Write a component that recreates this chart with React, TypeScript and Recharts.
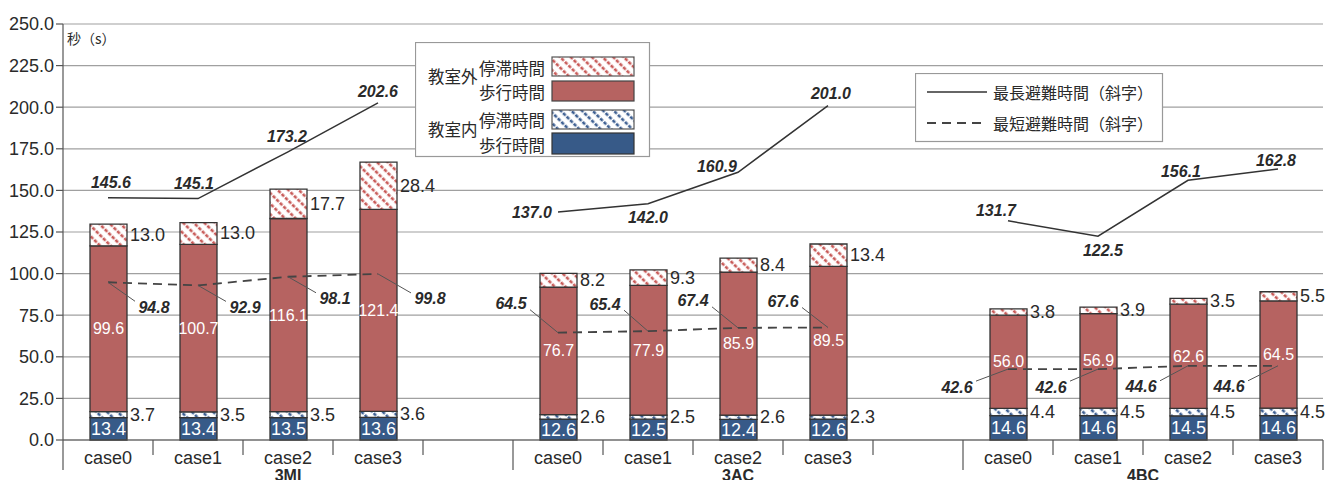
import React from 'react';
import { ComposedChart, Bar, Line, XAxis, YAxis, CartesianGrid, LabelList } from 'recharts';

// ---------- data ----------
const groups = ['3MI', '3AC', '4BC'];
const cases = ['case0', 'case1', 'case2', 'case3'];
const yTicks = [0, 25, 50, 75, 100, 125, 150, 175, 200, 225, 250];

const innerWalk = [13.4, 13.4, 13.5, 13.6, 12.6, 12.5, 12.4, 12.6, 14.6, 14.6, 14.5, 14.6];
const innerStay = [3.7, 3.5, 3.5, 3.6, 2.6, 2.5, 2.6, 2.3, 4.4, 4.5, 4.5, 4.5];
const outerWalk = [99.6, 100.7, 116.1, 121.4, 76.7, 77.9, 85.9, 89.5, 56.0, 56.9, 62.6, 64.5];
const outerStay = [13.0, 13.0, 17.7, 28.4, 8.2, 9.3, 8.4, 13.4, 3.8, 3.9, 3.5, 5.5];
const maxTime = [145.6, 145.1, 173.2, 202.6, 137.0, 142.0, 160.9, 201.0, 131.7, 122.5, 156.1, 162.8];
const minTime = [94.8, 92.9, 98.1, 99.8, 64.5, 65.4, 67.4, 67.6, 42.6, 42.6, 44.6, 44.6];

const yUnit = '秒（s）';
const legendOuter = '教室外';
const legendInner = '教室内';
const legendStay = '停滞時間';
const legendWalk = '歩行時間';
const legendMax = '最長避難時間（斜字）';
const legendMin = '最短避難時間（斜字）';

// ---------- layout / style ----------
const CHART_W = 1335;
const CHART_H = 472;
const MARGIN = { top: 16, right: 20, bottom: 0, left: 0 };
const Y_AXIS_W = 55;
const X_AXIS_H = 40;
const PLOT_BOTTOM = CHART_H - MARGIN.bottom - X_AXIS_H;
const PLOT_W = CHART_W - MARGIN.left - MARGIN.right - Y_AXIS_W;

const FONT = "'Liberation Sans', 'Noto Sans CJK JP', Arial, sans-serif";
const JP = "'Noto Sans CJK JP', 'Liberation Sans', sans-serif";
const RED = '#b66361';
const BLUE = '#375a88';
const HATCH_RED = '#c85a58';
const HATCH_BLUE = '#3d5f92';
const OUTLINE = '#333';
const TEXT = '#2a2a2a';

// label placement (dx, dy of label centre from its point)
const maxLabelShift: [number, number][] = [
  [3, -15], [-4, -15], [-1, -15], [0, -11],
  [-26, 0], [0, 14], [-21, -6], [3, -12],
  [-12, -10], [5, 14], [-7, -9], [-2, -9],
];
const minLabelShift: [number, number][] = [
  [46, 25], [47, 22], [47, 22], [52, 25],
  [-47, -29], [-43, -27], [-45, -27], [-45, -26],
  [-51, 18], [-47, 18], [-47, 21], [-49, 21],
];

type Row = {
  slot: string;
  k: number;
  caseName: string;
  group: string;
  groupStart: boolean;
  groupEnd: boolean;
  groupSlots: number;
  innerWalk: number | null;
  innerStay: number | null;
  outerWalk: number | null;
  outerStay: number | null;
  maxTime: number | null;
  minTime: number | null;
};

const rows: Row[] = [];
groups.forEach((g, gi) => {
  const hasGap = gi < groups.length - 1;
  const n = cases.length + (hasGap ? 1 : 0);
  cases.forEach((c, ci) => {
    const k = gi * cases.length + ci;
    rows.push({
      slot: `${g}:${c}`,
      k,
      caseName: c,
      group: g,
      groupStart: ci === 0,
      groupEnd: !hasGap && ci === cases.length - 1,
      groupSlots: n,
      innerWalk: innerWalk[k],
      innerStay: innerStay[k],
      outerWalk: outerWalk[k],
      outerStay: outerStay[k],
      maxTime: maxTime[k],
      minTime: minTime[k],
    });
  });
  if (hasGap) {
    rows.push({
      slot: `${g}:gap`,
      k: -1,
      caseName: '',
      group: g,
      groupStart: false,
      groupEnd: true,
      groupSlots: n,
      innerWalk: null,
      innerStay: null,
      outerWalk: null,
      outerStay: null,
      maxTime: null,
      minTime: null,
    });
  }
});

const BAND_HALF = PLOT_W / rows.length / 2;

const CaseTick = (props: any) => {
  const { x, payload } = props;
  const i = payload && payload.index != null ? payload.index : props.index;
  const row = rows[i];
  if (!row) return <g />;
  const y0 = PLOT_BOTTOM;
  return (
    <g>
      {i === 0 && <line x1={x - BAND_HALF} x2={x - BAND_HALF} y1={y0} y2={y0 + 30} stroke="#555" strokeWidth={1.2} />}
      <line
        x1={x + BAND_HALF}
        x2={x + BAND_HALF}
        y1={y0}
        y2={y0 + (row.groupEnd ? 30 : 15)}
        stroke="#555"
        strokeWidth={1.2}
      />
      {row.caseName && (
        <text x={x} y={y0 + 18} textAnchor="middle" dominantBaseline="central" fill={TEXT} fontSize={18} fontFamily={FONT}>
          {row.caseName}
        </text>
      )}
      {row.groupStart && (
        <text
          x={x - BAND_HALF + row.groupSlots * BAND_HALF}
          y={y0 + 35}
          textAnchor="middle"
          dominantBaseline="central"
          fill={TEXT}
          fontSize={16}
          fontWeight="bold"
          fontFamily={FONT}
        >
          {row.group}
        </text>
      )}
    </g>
  );
};

const barLabel = (mode: 'center' | 'right', color: string, size: number) => (p: any) => {
  const vb = p.viewBox && p.viewBox.width != null ? p.viewBox : p;
  const { x, y, width, height } = vb;
  const value = p.value;
  if (value == null || x == null || width == null) return <g />;
  const v = Number(value).toFixed(1);
  if (mode === 'center') {
    return (
      <text x={x + width / 2} y={y + height / 2} textAnchor="middle" dominantBaseline="central" fill={color} fontSize={size} fontFamily={FONT}>
        {v}
      </text>
    );
  }
  return (
    <text x={x + width + 3} y={y + height / 2} textAnchor="start" dominantBaseline="central" fill={color} fontSize={size} fontFamily={FONT}>
      {v}
    </text>
  );
};

const MaxDot = (p: any) => {
  const { cx, cy, payload } = p;
  if (cx == null || cy == null || !payload || payload.maxTime == null || payload.k < 0) return <g key={p.index} />;
  const [dx, dy] = maxLabelShift[payload.k];
  return (
    <g key={p.index}>
      <text
        x={cx + dx}
        y={cy + dy}
        textAnchor="middle"
        dominantBaseline="central"
        fill={TEXT}
        fontSize={16}
        fontWeight="bold"
        fontStyle="italic"
        fontFamily={FONT}
      >
        {Number(payload.maxTime).toFixed(1)}
      </text>
    </g>
  );
};

const MinDot = (p: any) => {
  const { cx, cy, payload } = p;
  if (cx == null || cy == null || !payload || payload.minTime == null || payload.k < 0) return <g key={p.index} />;
  const [dx, dy] = minLabelShift[payload.k];
  const lx = cx + dx;
  const ly = cy + dy;
  const ex = lx - Math.sign(dx) * 19;
  const ey = ly - Math.sign(dy) * 6;
  return (
    <g key={p.index}>
      <line x1={cx} y1={cy} x2={ex} y2={ey} stroke="#555" strokeWidth={1} />
      <text
        x={lx}
        y={ly}
        textAnchor="middle"
        dominantBaseline="central"
        fill={TEXT}
        fontSize={16}
        fontWeight="bold"
        fontStyle="italic"
        fontFamily={FONT}
      >
        {Number(payload.minTime).toFixed(1)}
      </text>
    </g>
  );
};

const Hatch = ({ id, color }: { id: string; color: string }) => (
  <pattern id={id} patternUnits="userSpaceOnUse" width={7.5} height={10} patternTransform="rotate(-45)">
    <rect width={7.5} height={10} fill="#fff" />
    <line x1={2} y1={0} x2={2} y2={10} stroke={color} strokeWidth={2.6} strokeDasharray="3.5 1.5" />
  </pattern>
);

const LegendBars = () => {
  const t = { fill: TEXT, fontSize: 16.5, fontFamily: JP, dominantBaseline: 'central' as const };
  return (
    <svg width={236} height={116} style={{ position: 'absolute', left: 407, top: 34 }}>
      <defs>
        <Hatch id="lgHatchOuter" color={HATCH_RED} />
        <Hatch id="lgHatchInner" color={HATCH_BLUE} />
      </defs>
      <rect x={0.5} y={0.5} width={234} height={114} fill="#fff" stroke="#999" strokeWidth={1.2} />
      <text x={13} y={34} {...t}>{legendOuter}</text>
      <text x={130} y={26} textAnchor="end" {...t}>{legendStay}</text>
      <text x={130} y={50} textAnchor="end" {...t}>{legendWalk}</text>
      <rect x={137} y={15} width={82} height={19} fill="url(#lgHatchOuter)" stroke="#555" strokeWidth={1.2} />
      <rect x={137} y={39} width={82} height={20} fill={RED} stroke="#444" strokeWidth={1.2} />
      <text x={13} y={87} {...t}>{legendInner}</text>
      <text x={130} y={78} textAnchor="end" {...t}>{legendStay}</text>
      <text x={130} y={103} textAnchor="end" {...t}>{legendWalk}</text>
      <rect x={137} y={68} width={82} height={19} fill="url(#lgHatchInner)" stroke="#555" strokeWidth={1.2} />
      <rect x={137} y={91} width={82} height={21} fill={BLUE} stroke="#333" strokeWidth={1.2} />
    </svg>
  );
};

const LegendLines = () => {
  const t = { fill: TEXT, fontSize: 16, fontFamily: JP, dominantBaseline: 'central' as const };
  return (
    <svg width={249} height={70} style={{ position: 'absolute', left: 907, top: 65 }}>
      <rect x={0.5} y={0.5} width={247} height={68} fill="#fff" stroke="#999" strokeWidth={1.2} />
      <line x1={12} x2={72} y1={19} y2={19} stroke="#333" strokeWidth={1.5} />
      <text x={78} y={19} {...t}>{legendMax}</text>
      <line x1={12} x2={72} y1={50} y2={50} stroke="#444" strokeWidth={1.8} strokeDasharray="9 6" />
      <text x={78} y={50} {...t}>{legendMin}</text>
    </svg>
  );
};

export default function App() {
  return (
    <div style={{ position: 'relative', width: CHART_W, height: CHART_H, fontFamily: FONT }}>
      <ComposedChart width={CHART_W} height={CHART_H} data={rows} margin={MARGIN} barCategoryGap={0}>
        <defs>
          <Hatch id="hatchOuter" color={HATCH_RED} />
          <Hatch id="hatchInner" color={HATCH_BLUE} />
        </defs>
        <CartesianGrid horizontal vertical={false} stroke="#a0a0a0" strokeWidth={1.2} />
        <XAxis
          dataKey="slot"
          type="category"
          interval={0}
          height={X_AXIS_H}
          tickLine={false}
          tickSize={0}
          axisLine={{ stroke: '#555', strokeWidth: 1.2 }}
          tick={(props: any) => <CaseTick {...props} />}
        />
        <YAxis
          width={Y_AXIS_W}
          domain={[0, 250]}
          ticks={yTicks}
          interval={0}
          tickSize={7}
          tickMargin={2}
          tickFormatter={(v: number) => v.toFixed(1)}
          tick={{ fill: TEXT, fontSize: 18, fontFamily: FONT }}
          axisLine={{ stroke: '#555', strokeWidth: 1.2 }}
          tickLine={{ stroke: '#555', strokeWidth: 1.2 }}
        />
        <Bar dataKey="innerWalk" stackId="a" barSize={37} fill={BLUE} stroke={OUTLINE} strokeWidth={1.3} isAnimationActive={false}>
          <LabelList dataKey="innerWalk" content={barLabel('center', '#fff', 18)} />
        </Bar>
        <Bar dataKey="innerStay" stackId="a" barSize={37} fill="url(#hatchInner)" stroke={OUTLINE} strokeWidth={1.3} isAnimationActive={false}>
          <LabelList dataKey="innerStay" content={barLabel('right', TEXT, 18)} />
        </Bar>
        <Bar dataKey="outerWalk" stackId="a" barSize={37} fill={RED} stroke={OUTLINE} strokeWidth={1.3} isAnimationActive={false}>
          <LabelList dataKey="outerWalk" content={barLabel('center', '#fff', 16)} />
        </Bar>
        <Bar dataKey="outerStay" stackId="a" barSize={37} fill="url(#hatchOuter)" stroke={OUTLINE} strokeWidth={1.3} isAnimationActive={false}>
          <LabelList dataKey="outerStay" content={barLabel('right', TEXT, 18)} />
        </Bar>
        <Line
          dataKey="maxTime"
          type="linear"
          stroke="#333"
          strokeWidth={1.5}
          dot={MaxDot}
          activeDot={false}
          connectNulls={false}
          isAnimationActive={false}
        />
        <Line
          dataKey="minTime"
          type="linear"
          stroke="#444"
          strokeWidth={1.8}
          strokeDasharray="9 6"
          dot={MinDot}
          activeDot={false}
          connectNulls={false}
          isAnimationActive={false}
        />
      </ComposedChart>
      <div
        style={{
          position: 'absolute',
          left: 59,
          top: 21,
          fontSize: 14,
          fontFamily: JP,
          color: TEXT,
          lineHeight: '18px',
          pointerEvents: 'none',
        }}
      >
        {yUnit}
      </div>
      <LegendBars />
      <LegendLines />
    </div>
  );
}
